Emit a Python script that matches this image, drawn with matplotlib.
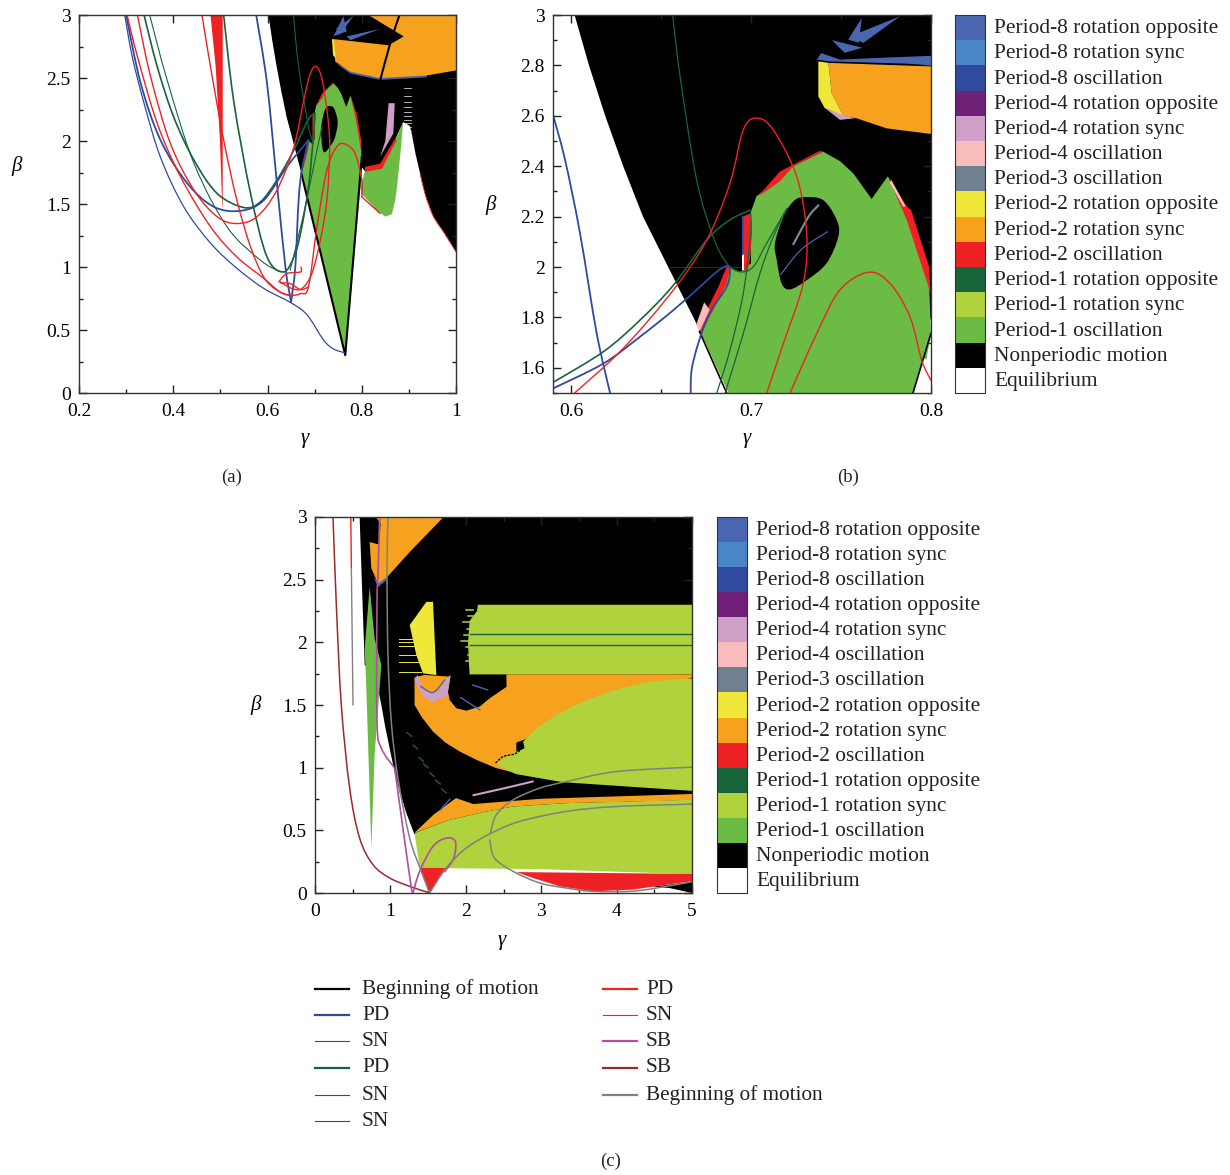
import matplotlib
matplotlib.use("Agg")
from matplotlib import pyplot as plt
from matplotlib.patches import PathPatch
from matplotlib.path import Path
from matplotlib.ticker import MultipleLocator, FuncFormatter

plt.rcParams['font.family'] = ['Liberation Serif', 'DejaVu Serif']

W = 1230
H = 1175

# legend of the colour maps
region_names = ["Period-8 rotation opposite", "Period-8 rotation sync", "Period-8 oscillation",
                "Period-4 rotation opposite", "Period-4 rotation sync", "Period-4 oscillation",
                "Period-3 oscillation", "Period-2 rotation opposite", "Period-2 rotation sync",
                "Period-2 oscillation", "Period-1 rotation opposite", "Period-1 rotation sync",
                "Period-1 oscillation", "Nonperiodic motion", "Equilibrium"]
region_colors = ["#4a66b0", "#4a86c5", "#2f4a9e", "#6f2077", "#cf9fc8", "#f9bcbc", "#6f8090",
                 "#efe83a", "#f6a21e", "#ee2224", "#17643a", "#b0d23c", "#6cbb45", "#000000", "#ffffff"]

line_names_1 = ["Beginning of motion", "PD", "SN", "PD", "SN", "SN"]
line_colors_1 = ["#000000", "#2f4a9e", "#2f4a9e", "#17643a", "#17643a", "#17643a"]
line_widths_1 = [2, 2, 1, 2, 1, 1]
line_names_2 = ["PD", "SN", "SB", "SB", "Beginning of motion"]
line_colors_2 = ["#ee2224", "#ee2224", "#b04fa0", "#9c2a2a", "#808080"]
line_widths_2 = [2, 1, 2, 2, 2]

BLUE = "#2f4a9e"
DGREEN = "#17643a"
RED = "#ee2224"
GREEN = "#6cbb45"
ORANGE = "#f6a21e"
LIME = "#b0d23c"
YELLOW = "#efe83a"
PINK = "#cf9fc8"
LPINK = "#f9bcbc"
FAN = "#4a66b0"
GRAY = "#808080"
MAG = "#b04fa0"
BROWN = "#9c2a2a"

# regions shared by (a) and (b)
black_ab = [(0.602, 3), (1, 3), (1, 1.12), (0.975, 1.27), (0.952, 1.40), (0.935, 1.57), (0.924, 1.74), (0.914, 1.90),
            (0.906, 2.06), (0.902, 2.12), (0.888, 2.15),
            (0.867, 1.98), (0.84, 1.80), (0.807, 1.76), (0.798, 1.8), (0.78, 1.5), (0.69, 1.5), (0.672, 1.74),
            (0.668, 1.8), (0.654, 2.0), (0.640, 2.2), (0.629, 2.4), (0.619, 2.6), (0.610, 2.8)]
green_main = [(0.765, 0.30), (0.672, 1.74), (0.683, 1.92), (0.688, 2.0), (0.694, 1.98), (0.700, 2.015), (0.6995, 2.21),
              (0.703, 2.28), (0.7235, 2.40), (0.74, 2.458), (0.7495, 2.42), (0.757, 2.37), (0.767, 2.27), (0.776, 2.36),
              (0.7865, 2.226), (0.793, 2.08), (0.799, 1.92), (0.80, 1.737)]
green_lobe = [(0.797, 1.64), (0.807, 1.76), (0.82, 1.77), (0.84, 1.80), (0.855, 1.90), (0.867, 1.98), (0.888, 2.15),
              (0.882, 1.9), (0.875, 1.64), (0.871, 1.53), (0.864, 1.42), (0.85, 1.40), (0.832, 1.45), (0.80, 1.58)]
hole = [(0.729, 2.277), (0.74, 2.266), (0.7476, 2.187), (0.7485, 2.12), (0.742, 2.015), (0.731, 1.948), (0.7217, 1.911),
        (0.717, 1.935), (0.7143, 2.028), (0.7133, 2.094), (0.718, 2.2), (0.7235, 2.26)]
red_bar = [(0.6954, 2.2), (0.6998, 2.213), (0.7006, 2.134), (0.6994, 2.028), (0.698, 1.981), (0.6954, 1.988)]
red_left = [(0.6713, 1.743), (0.6754, 1.829), (0.6819, 1.922), (0.6865, 2.001), (0.6883, 1.995), (0.6865, 1.935),
            (0.679, 1.829), (0.672, 1.735)]
pink_left = [(0.6695, 1.77), (0.674, 1.86), (0.677, 1.83), (0.6715, 1.745)]
red_top = [(0.7161, 2.379), (0.738, 2.46), (0.7402, 2.458), (0.7235, 2.40), (0.7161, 2.34), (0.7041, 2.28), (0.71, 2.33)]
red_right = [(0.7763, 2.359), (0.7865, 2.24), (0.789, 2.226), (0.799, 2.0), (0.7998, 1.895), (0.798, 1.935),
             (0.7865, 2.187), (0.7772, 2.339)]
pink_right = [(0.778, 2.345), (0.786, 2.24), (0.7845, 2.24), (0.777, 2.335)]
hline_ab = [0.654, 0.8]

fan_b_1 = [(0.7365, 2.823), (0.739, 2.849), (0.7494, 2.823), (0.768, 2.829), (0.80, 2.838), (0.80, 2.80), (0.7865, 2.807),
           (0.743, 2.816)]
fan_b_2 = [(0.7828, 2.995), (0.755, 2.915), (0.7624, 2.889)]
fan_b_3 = [(0.7615, 2.988), (0.754, 2.902), (0.76, 2.89)]
fan_b_4 = [(0.755, 2.862), (0.7865, 2.915), (0.76, 2.87)]
fan_b_5 = [(0.745, 2.90), (0.752, 2.85), (0.762, 2.87)]

# regions of (a) only
orange_a = [(0.737, 2.81), (0.857, 2.76), (0.889, 2.83), (0.814, 3), (1, 3), (1, 2.56), (0.938, 2.52), (0.839, 2.50),
            (0.776, 2.55), (0.744, 2.63)]
fringe_a = [(0.744, 2.62), (0.776, 2.535), (0.839, 2.485), (0.938, 2.505), (0.938, 2.53), (0.839, 2.51), (0.776, 2.56)]
fan1_a = [(0.74, 2.83), (0.761, 2.99), (0.768, 2.87)]
fan2_a = [(0.768, 2.83), (0.839, 2.89), (0.776, 2.80)]
yellow_a = [(0.737, 2.81), (0.741, 2.80), (0.745, 2.66), (0.739, 2.68)]
pink_a = [(0.857, 2.30), (0.87, 2.30), (0.867, 2.06), (0.839, 1.875), (0.85, 2.0)]
red_band_a = [(0.807, 1.795), (0.839, 1.82), (0.871, 2.02), (0.874, 2.007), (0.843, 1.78), (0.807, 1.755)]
red_thick_a = [(0.479, 3), (0.49, 2.59), (0.499, 2.007), (0.504, 1.48), (0.505, 1.478), (0.505, 3)]
stripes_a = [2.08, 2.11, 2.14, 2.17, 2.2, 2.23, 2.27, 2.31, 2.36, 2.42]

# lines of (a)
a_black_1 = [(0.88, 3), (0.86, 2.77), (0.839, 2.48)]
a_black_2 = [(0.672, 1.74), (0.765, 0.30), (0.80, 1.87)]
a_blue_sn = [(0.297, 3), (0.313, 2.67), (0.338, 2.30), (0.373, 1.87), (0.422, 1.48), (0.479, 1.19), (0.535, 0.99),
             (0.592, 0.83), (0.648, 0.72), (0.684, 0.62), (0.719, 0.42), (0.74, 0.35), (0.763, 0.32)]
a_blue_u = [(0.30, 3), (0.331, 2.457), (0.373, 2.007), (0.43, 1.663), (0.486, 1.478), (0.543, 1.446), (0.592, 1.53),
            (0.641, 1.795), (0.687, 2.007)]
a_blue_v1 = [(0.576, 3), (0.599, 2.457), (0.62, 1.663), (0.638, 1.0), (0.65, 0.723)]
a_blue_v2 = [(0.65, 0.723), (0.659, 1.0), (0.666, 1.53), (0.673, 1.77), (0.687, 2.007)]
a_red_1 = [(0.302, 3), (0.324, 2.67), (0.366, 2.14), (0.415, 1.72), (0.479, 1.32), (0.535, 1.08), (0.592, 0.91),
           (0.627, 0.80), (0.652, 0.77)]
a_red_2 = [(0.324, 3), (0.352, 2.51), (0.394, 1.98), (0.444, 1.61), (0.493, 1.40), (0.535, 1.345), (0.578, 1.40),
           (0.62, 1.61), (0.656, 1.954), (0.677, 2.325), (0.691, 2.537), (0.704, 2.59), (0.716, 2.484), (0.728, 2.19),
           (0.732, 1.93), (0.726, 1.53), (0.712, 1.21), (0.694, 0.948), (0.673, 0.829), (0.652, 0.829), (0.627, 0.882)]
a_red_3 = [(0.461, 3), (0.479, 2.59), (0.507, 2.007), (0.535, 1.53), (0.564, 1.16), (0.592, 0.92), (0.62, 0.816),
           (0.648, 0.776), (0.67, 0.789), (0.687, 0.842), (0.705, 1.319), (0.726, 1.769), (0.747, 1.954), (0.765, 1.975),
           (0.786, 1.90), (0.80, 1.69), (0.80, 1.557)]
a_red_3b = [(0.80, 1.557), (0.839, 1.425)]
a_red_4 = [(0.624, 0.882), (0.641, 0.948), (0.67, 0.961), (0.671, 1.0)]
a_red_5 = [(0.627, 0.874), (0.648, 0.869), (0.67, 0.821), (0.687, 0.842)]
a_red_edge = [(1, 1.12), (0.975, 1.27), (0.952, 1.40), (0.935, 1.57), (0.924, 1.74)]
a_green_1 = [(0.338, 3), (0.366, 2.59), (0.401, 2.19), (0.444, 1.848), (0.493, 1.584), (0.55, 1.472), (0.585, 1.517),
             (0.62, 1.69), (0.656, 1.928), (0.684, 2.153), (0.698, 2.22)]
a_green_2 = [(0.35, 3), (0.387, 2.484), (0.444, 1.822), (0.514, 1.319), (0.585, 1.054), (0.627, 0.961)]
a_green_3 = [(0.507, 3), (0.528, 2.325), (0.564, 1.584), (0.599, 1.08), (0.634, 0.961), (0.656, 1.08), (0.67, 1.266),
             (0.687, 1.636), (0.698, 2.06), (0.701, 2.22)]
a_green_4 = [(0.655, 3), (0.666, 2.59), (0.687, 2.113), (0.698, 1.98)]
a_green_5 = [(0.648, 0.975), (0.677, 1.425), (0.705, 1.928), (0.716, 2.113)]

# regions of (b) only
orange_b = [(0.743, 2.81), (0.80, 2.796), (0.80, 2.528), (0.7754, 2.55), (0.7587, 2.59), (0.7513, 2.60), (0.7448, 2.69)]
yellow_b = [(0.7374, 2.816), (0.743, 2.81), (0.7448, 2.69), (0.7513, 2.60), (0.741, 2.63), (0.7374, 2.677)]
pink_b = [(0.740, 2.637), (0.7494, 2.584), (0.7578, 2.59), (0.7505, 2.604)]
white_corner_b = [(0.79, 1.5), (0.7957, 1.64), (0.80, 1.62), (0.80, 1.5)]
gray_in_hole = [(0.7235, 2.09), (0.732, 2.2), (0.7375, 2.245)]
blue_in_hole = [(0.7165, 1.97), (0.728, 2.07), (0.7425, 2.14)]
white_bar_b = [(0.6952, 2.05), (0.696, 2.05), (0.696, 1.99), (0.6952, 1.99)]

# lines of (b)
b_blue_1 = [(0.59, 2.604), (0.5967, 2.425), (0.605, 2.134), (0.6143, 1.736), (0.6217, 1.5)]
b_blue_2 = [(0.59, 1.518), (0.618, 1.617), (0.6383, 1.723), (0.6569, 1.829), (0.6717, 1.922), (0.681, 1.981),
            (0.6865, 2.004), (0.6883, 1.988), (0.6865, 1.922), (0.677, 1.816), (0.6707, 1.697), (0.667, 1.591), (0.6665, 1.5)]
b_blue_3 = [(0.6954, 2.2), (0.6954, 2.05)]
b_green_1 = [(0.59, 1.542), (0.618, 1.664), (0.6383, 1.789), (0.6569, 1.928), (0.6754, 2.107), (0.6883, 2.187), (0.6995, 2.225)]
b_green_2 = [(0.6565, 3), (0.6606, 2.756), (0.6698, 2.346), (0.679, 2.12), (0.6865, 2.015), (0.6939, 1.981), (0.7013, 2.001),
             (0.7087, 2.094), (0.72, 2.233)]
b_green_3 = [(0.681, 1.5), (0.6883, 1.67), (0.6957, 1.895), (0.6998, 2.134), (0.6998, 2.213)]
b_green_4 = [(0.6856, 1.5), (0.6957, 1.736), (0.705, 1.975), (0.7124, 2.12), (0.72, 2.233)]
b_red_1 = [(0.602, 1.5), (0.629, 1.677), (0.6569, 1.909), (0.6754, 2.107), (0.6883, 2.332), (0.6957, 2.544), (0.7031, 2.591),
           (0.7124, 2.544), (0.7254, 2.359), (0.7309, 2.134), (0.729, 1.935), (0.718, 1.697), (0.7087, 1.5)]
b_red_2 = [(0.7217, 1.5), (0.7365, 1.736), (0.7494, 1.909), (0.7652, 1.979), (0.7772, 1.935), (0.7883, 1.803), (0.7948, 1.63),
           (0.80, 1.55)]
b_black_1 = [(0.6713, 1.745), (0.6865, 1.5)]
b_black_2 = [(0.79, 1.5), (0.80, 1.737)]

# regions of (c)
black_c = [(0.592, 3), (5, 3), (5, 0.75), (1.32, 0.465), (1.21, 0.64), (1.123, 0.81), (1.05, 0.98), (0.99, 1.155), (0.93, 1.33),
           (0.88, 1.5), (0.791, 1.766), (0.659, 1.819)]
orange_c_top = [(0.805, 3), (1.706, 3), (1.255, 2.72), (0.955, 2.52), (0.836, 2.47), (0.747, 2.59), (0.725, 2.80), (0.85, 2.78),
                (0.87, 2.95)]
fringe_c_top = [(0.78, 2.52), (0.836, 2.44), (0.955, 2.50), (0.955, 2.54), (0.836, 2.49)]
lime_c_top = [(2.16, 2.30), (5, 2.30), (5, 1.744), (2.05, 1.744), (2.04, 1.85), (2.03, 2.0), (2.05, 2.17), (2.15, 2.25)]
lime_dash_y = [2.26, 2.21, 2.16, 2.11, 2.06, 2.01, 1.96, 1.90, 1.85]
lime_dash_x = [2.0, 2.03, 1.96, 2.02, 1.98, 1.93, 2.0, 2.03, 2.0]
yellow_c = [(1.477, 2.323), (1.565, 2.323), (1.609, 1.739), (1.432, 1.752), (1.344, 1.898), (1.256, 2.137)]
orange_c_mid = [(1.32, 1.72), (1.32, 1.50), (1.42, 1.40), (1.565, 1.288), (1.73, 1.20), (1.919, 1.129), (2.15, 1.06), (2.405, 0.996),
                (2.67, 0.956), (2.67, 1.2), (5, 1.72), (5, 1.744), (2.538, 1.744), (2.54, 1.645), (2.316, 1.553), (2.184, 1.487),
                (2.007, 1.455), (1.874, 1.474), (1.786, 1.54), (1.764, 1.606), (1.795, 1.726), (1.45, 1.74)]
pink_c = [(1.36, 1.74), (1.45, 1.61), (1.62, 1.60), (1.76, 1.72), (1.80, 1.74), (1.755, 1.58), (1.565, 1.52), (1.43, 1.57), (1.32, 1.70)]
lime_c_big = [(5, 1.713), (4.44, 1.686), (4.1, 1.64), (3.775, 1.58), (3.45, 1.50), (3.2, 1.42), (2.95, 1.32), (2.76, 1.208), (2.78, 1.155),
              (2.626, 1.115), (2.405, 1.036), (2.49, 0.996), (2.67, 0.948), (3.29, 0.884), (5, 0.815)]
orange_c_low = [(1.32, 0.48), (1.57, 0.624), (1.87, 0.757), (2.1, 0.71), (3.0, 0.752), (5, 0.79), (5, 0.74), (3.333, 0.717),
                (2.626, 0.69), (2.272, 0.65), (1.786, 0.584)]
lime_c_low = [(1.32, 0.478), (1.786, 0.584), (2.272, 0.65), (2.626, 0.69), (3.333, 0.717), (5, 0.743), (5, 0.15), (3, 0.19), (1.388, 0.2)]
red_c_tri = [(1.388, 0.2), (1.728, 0.2), (1.52, 0)]
red_c_low = [(2.67, 0.167), (5, 0.152), (5, 0.093), (4.66, 0.066), (4.217, 0.027), (3.687, 0.013), (3.245, 0.053), (2.89, 0.12)]
black_c_corner = [(5, 0.09), (4.48, 0.05), (4.7, 0.04), (5, 0)]
green_c = [(0.725, 2.442), (0.659, 1.951), (0.681, 1.633), (0.747, 0.358), (0.791, 1.102), (0.88, 1.819), (0.791, 2.03)]
red_c_small = [(1.06, 0.99), (1.12, 0.81), (1.17, 0.7), (1.10, 0.88)]
yellow_dash_y = [1.76, 1.84, 1.90, 1.97, 2.0, 2.03]
green_dash_x = [1.22, 1.30, 1.38, 1.44, 1.52, 1.60, 1.68]
green_dash_y = [1.28, 1.18, 1.08, 1.03, 0.96, 0.90, 0.83]

# lines of (c)
c_green_h = [2.068, 1.978]
c_gray_1 = [(0.968, 3), (0.955, 2.562), (0.968, 1.898), (1.012, 1.367), (1.10, 0.916), (1.256, 0.438), (1.41, 0.173), (1.52, 0)]
c_gray_2 = [(1.52, 0), (1.74, 0.2), (2.007, 0.359), (2.339, 0.478), (2.714, 0.571), (3.333, 0.651), (3.996, 0.69), (5, 0.709)]
c_gray_3 = [(2.325, 0.478), (2.405, 0.624), (2.626, 0.743), (2.98, 0.836), (3.333, 0.889), (3.996, 0.969), (5, 1.004)]
c_gray_4 = [(2.317, 0.425), (2.38, 0.28), (2.626, 0.173), (2.98, 0.08), (3.333, 0.04), (3.687, 0.013), (4.217, 0.015), (4.66, 0.053), (5, 0.09)]
c_gray_5 = [(0.482, 2.6), (0.504, 1.5)]
c_red_top = [(0.475, 3), (0.482, 2.6)]
c_brown = [(0.239, 3), (0.283, 2.297), (0.349, 1.5), (0.46, 0.836), (0.592, 0.438), (0.769, 0.226), (0.99, 0.12), (1.256, 0.053), (1.499, 0.005)]
c_mag_1 = [(0.858, 3), (0.836, 2.562), (0.822, 2.297), (0.822, 1.367), (0.88, 1.155), (1.057, 0.996)]
c_mag_2 = [(1.057, 0.996), (1.17, 0.5), (1.278, 0.04), (1.30, 0)]
c_mag_3 = [(1.30, 0), (1.388, 0.173), (1.565, 0.372), (1.742, 0.438), (1.861, 0.412), (1.84, 0.279), (1.72, 0.17)]
c_pink_thin = [(2.1, 0.78), (2.54, 0.84), (2.89, 0.89)]
c_notch = [(2.40, 1.04), (2.5, 1.09), (2.65, 1.11), (2.75, 1.16), (2.73, 1.2)]
c_blue_1 = [(1.40, 1.65), (1.565, 1.60), (1.72, 1.70)]
c_blue_2 = [(1.93, 1.56), (2.19, 1.46)]
c_blue_3 = [(2.09, 1.66), (2.29, 1.62)]
c_blue_4 = [(1.66, 0.66), (1.79, 0.75)]


def poly(ax, pts, color, z=2):
    ax.fill([p[0] for p in pts], [p[1] for p in pts], color=color, lw=0, zorder=z)


# bezier path through the read points, so the curves are not angular
def curve_path(pts, closed=False):
    n = len(pts)

    def at(i):
        if closed:
            return pts[i % n]
        return pts[max(0, min(n - 1, i))]

    verts = [pts[0]]
    codes = [Path.MOVETO]
    for i in range(n if closed else n - 1):
        p0, p1, p2, p3 = at(i - 1), at(i), at(i + 1), at(i + 2)
        verts.append((p1[0] + (p2[0] - p0[0]) / 6, p1[1] + (p2[1] - p0[1]) / 6))
        verts.append((p2[0] - (p3[0] - p1[0]) / 6, p2[1] - (p3[1] - p1[1]) / 6))
        verts.append(p2)
        codes += [Path.CURVE4] * 3
    return Path(verts, codes)


def line(ax, pts, color, lw=1.0, z=5, ls='-'):
    ax.add_patch(PathPatch(curve_path(pts), fc='none', ec=color, lw=lw, zorder=z, ls=ls, capstyle='round'))


def blob(ax, pts, color, z=4):
    ax.add_patch(PathPatch(curve_path(pts, True), fc=color, ec='none', lw=0, zorder=z))


def make_axes(box, xlim, ylim, xmaj, xmin, ymaj, ymin):
    left, top, right, bottom = box
    ax = fig.add_axes([left / W, 1 - bottom / H, (right - left) / W, (bottom - top) / H])
    ax.set_xlim(*xlim)
    ax.set_ylim(*ylim)
    ax.xaxis.set_major_locator(MultipleLocator(xmaj))
    ax.xaxis.set_minor_locator(MultipleLocator(xmin))
    ax.yaxis.set_major_locator(MultipleLocator(ymaj))
    ax.yaxis.set_minor_locator(MultipleLocator(ymin))
    fmt = FuncFormatter(lambda v, p: "%g" % round(v, 3))
    ax.xaxis.set_major_formatter(fmt)
    ax.yaxis.set_major_formatter(fmt)
    ax.tick_params(which='major', direction='in', length=6, width=1, top=True, right=True, labelsize=14, color='#222222')
    ax.tick_params(axis='x', which='major', pad=7)
    ax.tick_params(axis='y', which='major', pad=6)
    ax.tick_params(which='minor', direction='in', length=3, width=1, top=True, right=True, color='#222222')
    for s in ax.spines.values():
        s.set_linewidth(1)
        s.set_color('#333333')
        s.set_zorder(10)
    return ax


fig = plt.figure(figsize=(W / 100, H / 100), dpi=100)

# panel (a)
ax_a = make_axes((79, 15, 456, 393), (0.2, 1), (0, 3), 0.2, 0.1, 0.5, 0.25)
poly(ax_a, black_ab, "#000000", 1)
for s in stripes_a:
    ax_a.plot([0.889, 0.905], [s, s], color='white', lw=0.5, zorder=1.5)
poly(ax_a, fringe_a, FAN)
poly(ax_a, orange_a, ORANGE)
poly(ax_a, yellow_a, YELLOW)
for f in [fan1_a, fan2_a, fan_b_2, fan_b_3, fan_b_4, fan_b_5]:
    poly(ax_a, f, FAN)
poly(ax_a, pink_a, PINK)
poly(ax_a, green_main, GREEN, 3)
poly(ax_a, green_lobe, GREEN, 3)
blob(ax_a, hole, "#000000")
poly(ax_a, red_band_a, RED, 4)
poly(ax_a, red_top, RED, 4)
poly(ax_a, red_right, RED, 4)
poly(ax_a, red_bar, RED, 4)
poly(ax_a, red_left, RED, 4)
poly(ax_a, red_thick_a, RED, 4)
line(ax_a, a_black_1, "#000000", 1.5)
ax_a.plot([p[0] for p in a_black_2], [p[1] for p in a_black_2], color="#000000", lw=1.5, zorder=5)
line(ax_a, a_red_edge, RED, 0.6)
for c in [a_green_1, a_green_3]:
    line(ax_a, c, DGREEN, 1.2)
for c in [a_green_2, a_green_4, a_green_5]:
    line(ax_a, c, DGREEN, 0.8)
for c in [a_blue_u, a_blue_v1, a_blue_v2]:
    line(ax_a, c, BLUE, 1.3)
line(ax_a, a_blue_sn, BLUE, 0.9)
for c in [a_red_1, a_red_2, a_red_3, a_red_3b, a_red_4, a_red_5]:
    line(ax_a, c, RED, 1.0)

# panel (b)
ax_b = make_axes((553, 15, 931, 393), (0.59, 0.8), (1.5, 3), 0.1, 0.05, 0.2, 0.1)
poly(ax_b, black_ab, "#000000", 1)
for f in [fan_b_1, fan_b_2, fan_b_3, fan_b_4, fan_b_5]:
    poly(ax_b, f, FAN)
poly(ax_b, orange_b, ORANGE)
poly(ax_b, yellow_b, YELLOW)
poly(ax_b, pink_b, PINK)
poly(ax_b, green_main, GREEN, 3)
blob(ax_b, hole, "#000000")
poly(ax_b, red_bar, RED, 4)
poly(ax_b, red_left, RED, 4)
poly(ax_b, pink_left, LPINK, 4)
poly(ax_b, red_top, RED, 4)
poly(ax_b, red_right, RED, 4)
poly(ax_b, pink_right, LPINK, 4)
poly(ax_b, white_corner_b, "#ffffff", 4)
poly(ax_b, white_bar_b, "#ffffff", 4.5)
ax_b.plot(hline_ab, [2, 2], color='#333333', lw=0.6, zorder=1.5)
line(ax_b, gray_in_hole, "#7f8f9f", 1.5)
line(ax_b, blue_in_hole, FAN, 0.9)
line(ax_b, b_black_1, "#000000", 1.2)
line(ax_b, b_black_2, "#000000", 1.2)
line(ax_b, b_blue_3, BLUE, 1.2)
line(ax_b, b_green_1, DGREEN, 1.2)
for c in [b_green_2, b_green_3, b_green_4]:
    line(ax_b, c, DGREEN, 0.9)
for c in [b_blue_1, b_blue_2]:
    line(ax_b, c, BLUE, 1.3)
for c in [b_red_1, b_red_2]:
    line(ax_b, c, RED, 1.0)

# panel (c)
ax_c = make_axes((315, 517, 692, 893), (0, 5), (0, 3), 1, 0.5, 0.5, 0.25)
poly(ax_c, black_c, "#000000", 1)
poly(ax_c, green_c, GREEN, 2)
poly(ax_c, fringe_c_top, FAN, 2)
poly(ax_c, orange_c_top, ORANGE, 2)
poly(ax_c, lime_c_top, LIME, 2)
poly(ax_c, yellow_c, YELLOW, 2)
poly(ax_c, orange_c_mid, ORANGE, 2)
poly(ax_c, pink_c, PINK, 3)
poly(ax_c, lime_c_big, LIME, 3)
poly(ax_c, orange_c_low, ORANGE, 3)
poly(ax_c, lime_c_low, LIME, 3)
poly(ax_c, red_c_tri, RED, 3)
poly(ax_c, red_c_low, RED, 3)
poly(ax_c, black_c_corner, "#000000", 3.5)
poly(ax_c, red_c_small, RED, 3)
for y in yellow_dash_y:
    ax_c.plot([1.12, 1.4], [y, y], color=YELLOW, lw=0.7, zorder=2.5)
for x, y in zip(lime_dash_x, lime_dash_y):
    ax_c.plot([x, 2.1], [y, y], color=LIME, lw=1.1, zorder=2.5)
for x, y in zip(green_dash_x, green_dash_y):
    ax_c.plot([x, x + 0.06], [y, y - 0.03], color=DGREEN, lw=1, zorder=2.5)
for y in c_green_h:
    ax_c.plot([2.05, 5], [y, y], color=DGREEN, lw=1.0, zorder=4)
for c in [c_blue_1, c_blue_2, c_blue_3, c_blue_4]:
    line(ax_c, c, FAN, 1.0, 4)
line(ax_c, c_pink_thin, PINK, 1.5, 4)
line(ax_c, c_notch, "#000000", 1.0, 4, ':')
line(ax_c, c_brown, BROWN, 1.1)
for c in [c_mag_1, c_mag_2, c_mag_3]:
    line(ax_c, c, MAG, 1.2)
for c in [c_gray_1, c_gray_2, c_gray_3, c_gray_4]:
    line(ax_c, c, GRAY, 1.1)
line(ax_c, c_gray_5, GRAY, 1.0)
line(ax_c, c_red_top, RED, 1.0)

# axis labels, colour keys, captions in image pixels
over = fig.add_axes([0, 0, 1, 1], facecolor='none')
over.set_xlim(0, W)
over.set_ylim(H, 0)
over.axis('off')

for x, y, g in [(305, 438, 'γ'), (17, 166, 'β'), (747, 438, 'γ'), (491, 205, 'β'), (502, 940, 'γ'), (256, 705, 'β')]:
    over.text(x, y, g, fontsize=15, style='italic', ha='center', va='center')
for x, y, t in [(232, 477, '(a)'), (848, 477, '(b)'), (611, 1161, '(c)')]:
    over.text(x, y, t, fontsize=13.5, ha='center', va='center', color='#222222')

for left, top, bottom in [(955, 15, 393), (717, 517, 893)]:
    step = (bottom - top) / len(region_names)
    for i, (name, col) in enumerate(zip(region_names, region_colors)):
        over.bar(left + 15, step, width=30, bottom=top + i * step, color=col, lw=0)
        over.text(left + 39.5, top + (i + 0.5) * step + 1, name, fontsize=15.4, va='center', color='#222222')
    over.plot([left, left + 30, left + 30, left, left], [top, top, bottom, bottom, top], color='#333333', lw=0.8)

key_y = [989, 1015, 1041, 1068, 1095, 1121]
for y, name, col, lw in zip(key_y, line_names_1, line_colors_1, line_widths_1):
    over.plot([315, 349], [y, y], color=col, lw=lw * 0.8)
    over.text(362, y, name, fontsize=15.3, va='center', color='#222222')
for y, name, col, lw in zip(key_y, line_names_2, line_colors_2, line_widths_2):
    over.plot([603, 637], [y, y], color=col, lw=lw * 0.8)
    over.text(646, y, name, fontsize=15.3, va='center', color='#222222')

fig.savefig("out.png", dpi=100)
